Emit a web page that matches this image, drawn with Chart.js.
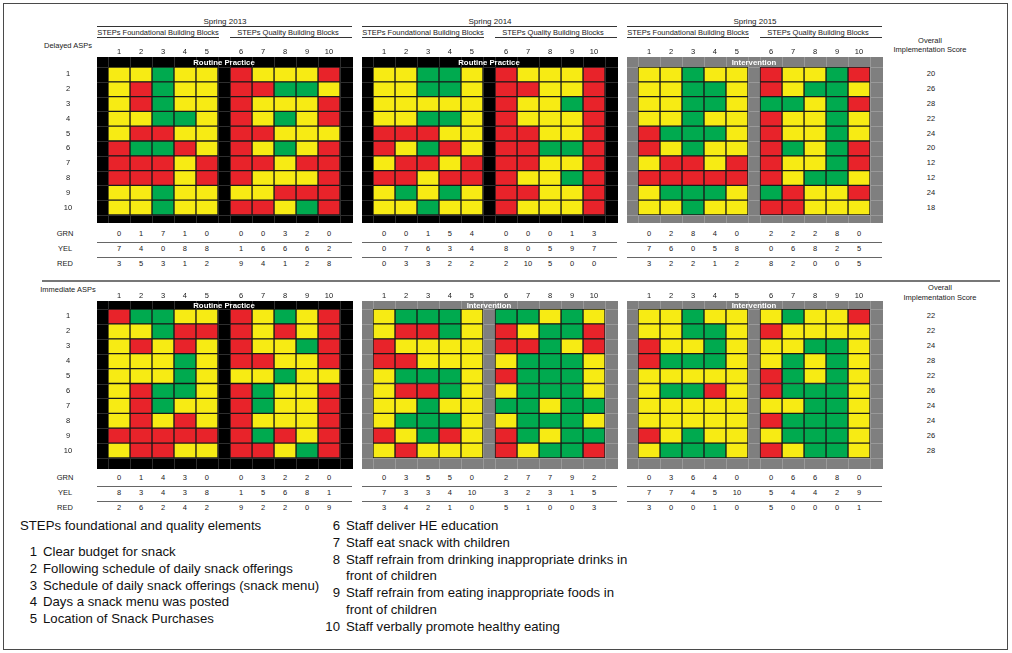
<!DOCTYPE html>
<html>
<head>
<meta charset="utf-8">
<script src="https://cdn.jsdelivr.net/npm/chart.js@4.4.0/dist/chart.umd.min.js"></script>
<style>
  html, body { margin: 0; padding: 0; background: #fff; }
  #page { position: relative; width: 1012px; height: 653px; overflow: hidden;
          font-family: "Liberation Sans", Arial, sans-serif; color: #1a1a1a; }
  .t { position: absolute; white-space: nowrap; line-height: 1; }
  .ln { position: absolute; height: 0; }
  canvas { position: absolute; }
</style>
</head>
<body>
<div id="page"></div>
<script>
// element numbers (columns) and ASP numbers (rows)
const elementLabels = ['1', '2', '3', '4', '5', '6', '7', '8', '9', '10'];
const rowLabels = ['1', '2', '3', '4', '5', '6', '7', '8', '9', '10'];
const periods = ['Spring 2013', 'Spring 2014', 'Spring 2015'];

// G = green, Y = yellow, R = red, one string per ASP, elements 1-10
const delayed2013 = ['YYGYYRYYYR', 'YRGYYRRGGY', 'YRGYYRYYYR', 'YYGGYRYGYR', 'YRRYYRRYYY',
                     'RGGRYRYGYR', 'RRRYRRRYRR', 'RRRYRRYYYR', 'YYGYYYYRRR', 'YYGYYRRYGR'];
const delayed2014 = ['YYGGYRYYYR', 'YYGGYRRYYR', 'YYYYYRYYGR', 'YYGGYRYYYR', 'RRRYYRRYYR',
                     'RYGRYRRGGR', 'YRRYRRRYYR', 'RRYRRRYYGR', 'YGYGYRRYYR', 'YYGYYRYYYR'];
const delayed2015 = ['YYGYYRYYGR', 'YYGGYRYGGY', 'YYGGYGGYGR', 'YYGYYRYYGY', 'RGGGYRYYGY',
                     'RYGYYRGYGR', 'YRRYRRYYGR', 'RRRRRRYGGY', 'YGGGYGRYYR', 'YYGYYRRYYY'];
const immediate2013 = ['RGGYYRYGYR', 'YYGRRRYRYR', 'YRYRYRYYGR', 'YYYGYRRYYR', 'YYYGYYYGYY',
                       'YRGGYRGYYR', 'YRGYYRGYYR', 'YRYRYRYYYR', 'RRRRRRGRYR', 'YRRYYRRYGR'];
const immediate2014 = ['YGGGYGGYGY', 'YRRGYRYGGR', 'RYYYYRRGYR', 'RRYYYYGGGY', 'YGGGYRGGGY',
                       'YRRGYYGGGY', 'YYGYYGGYGG', 'YGGGYYGGGY', 'RYGRYRGYGG', 'YRYYYRYGGR'];
const immediate2015 = ['YYGYYYGYYR', 'YYGGYRYYYY', 'RYYGYYYGGY', 'RGGGYYGYGY', 'YYYYYRGYGY',
                       'YGGRYRGGGY', 'YYYYYYYGGY', 'YYYYYRGGGY', 'RYGYYYGGGY', 'YGGGYRYGGY'];

const delayedScores = [20, 26, 28, 22, 24, 20, 12, 12, 24, 18];
const immediateScores = [22, 22, 24, 28, 22, 26, 24, 24, 26, 28];

// count rows printed under each block (as printed in the figure)
const countLabels = ['GRN', 'YEL', 'RED'];
const delayedCounts2013 = [[0, 1, 7, 1, 0, 0, 0, 3, 2, 0], [7, 4, 0, 8, 8, 1, 6, 6, 6, 2], [3, 5, 3, 1, 2, 9, 4, 1, 2, 8]];
const delayedCounts2014 = [[0, 0, 1, 5, 4, 0, 0, 0, 1, 3], [0, 7, 6, 3, 4, 8, 0, 5, 9, 7], [0, 3, 3, 2, 2, 2, 10, 5, 0, 0]];
const delayedCounts2015 = [[0, 2, 8, 4, 0, 2, 2, 2, 8, 0], [7, 6, 0, 5, 8, 0, 6, 8, 2, 5], [3, 2, 2, 1, 2, 8, 2, 0, 0, 5]];
const immediateCounts2013 = [[0, 1, 4, 3, 0, 0, 3, 2, 2, 0], [8, 3, 4, 3, 8, 1, 5, 6, 8, 1], [2, 6, 2, 4, 2, 9, 2, 2, 0, 9]];
const immediateCounts2014 = [[0, 3, 5, 5, 0, 2, 7, 7, 9, 2], [7, 3, 3, 4, 10, 3, 2, 3, 1, 5], [3, 4, 2, 1, 0, 5, 1, 0, 0, 3]];
const immediateCounts2015 = [[0, 3, 6, 4, 0, 0, 6, 6, 8, 0], [7, 7, 4, 5, 10, 5, 4, 4, 2, 9], [3, 0, 0, 1, 0, 5, 0, 0, 0, 1]];

const legendTitle = 'STEPs foundational and quality elements';
const legendLeft = [['1', 'Clear budget for snack'], ['2', 'Following schedule of daily snack offerings'],
  ['3', 'Schedule of daily snack offerings (snack menu)'], ['4', 'Days a snack menu was posted'],
  ['5', 'Location of Snack Purchases']];
const legendRight = [['6', 'Staff deliver HE education'], ['7', 'Staff eat snack with children'],
  ['8', 'Staff refrain from drinking inappropriate drinks in'], ['', 'front of children'],
  ['9', 'Staff refrain from eating inappropriate foods in'], ['', 'front of children'],
  ['10', 'Staff verbally promote healthy eating']];

const cellColors = { G: '#00aa4f', Y: '#f7eb14', R: '#e8232a' };
const GAP = 0.55;
const blockX = [97, 362, 627];
const BLOCK_W = 256;

const page = document.getElementById('page');

function text(str, x, y, size = 7.5, align = 'center', extra = {}) {
  const el = document.createElement('div');
  el.className = 't';
  el.textContent = str;
  el.style.left = x + 'px';
  el.style.top = y + 'px';
  el.style.fontSize = size + 'px';
  const tx = align === 'center' ? '-50%' : align === 'right' ? '-100%' : '0';
  el.style.transform = `translate(${tx}, -50%)`;
  Object.assign(el.style, extra);
  page.appendChild(el);
}

function line(x1, x2, y, w = 1, color = '#444') {
  const el = document.createElement('div');
  el.className = 'ln';
  el.style.left = x1 + 'px';
  el.style.top = y + 'px';
  el.style.width = (x2 - x1) + 'px';
  el.style.borderTop = `${w}px solid ${color}`;
  page.appendChild(el);
}

// faint grid lines on the block frame, at the cell edges
function frameGrid(color) {
  return {
    id: 'frameGrid',
    beforeDatasetsDraw(chart) {
      const { ctx, width, height } = chart;
      const x = chart.scales.x, y = chart.scales.y;
      const edges = [0, 1, 2, 3, 4, 5, 5 + GAP, 6 + GAP, 7 + GAP, 8 + GAP, 9 + GAP, 10 + GAP];
      const band = (y.bottom - y.top) / rowLabels.length;
      ctx.save();
      ctx.strokeStyle = color;
      ctx.lineWidth = 1;
      ctx.beginPath();
      edges.forEach(v => {
        const px = Math.round(x.getPixelForValue(v)) + 0.5;
        ctx.moveTo(px, 0); ctx.lineTo(px, height);
      });
      for (let i = 0; i <= rowLabels.length; i++) {
        const py = Math.round(y.top + i * band) + 0.5;
        ctx.moveTo(0, py); ctx.lineTo(width, py);
      }
      ctx.stroke();
      ctx.restore();
    }
  };
}

function cellDatasets(grid) {
  const sets = [];
  elementLabels.forEach((_, c) => {
    if (c === 5) {
      sets.push({ data: grid.map(() => GAP), backgroundColor: 'rgba(0,0,0,0)', borderWidth: 0 });
    }
    sets.push({
      data: grid.map(() => 1),
      backgroundColor: grid.map(row => cellColors[row[c]]),
      borderColor: '#1b1b1b',
      borderWidth: 1,
      borderSkipped: false
    });
  });
  return sets;
}

function drawBlock(grid, left, top, height, padTop, padBottom, phase) {
  const routine = phase === 'Routine Practice';
  const canvas = document.createElement('canvas');
  canvas.width = BLOCK_W;
  canvas.height = height;
  canvas.style.left = left + 'px';
  canvas.style.top = top + 'px';
  canvas.style.background = routine ? '#000' : '#7f7f7f';
  page.appendChild(canvas);
  const chart = new Chart(canvas, {
    type: 'bar',
    data: { labels: rowLabels, datasets: cellDatasets(grid) },
    options: {
      indexAxis: 'y',
      responsive: false,
      animation: false,
      devicePixelRatio: 1,
      barPercentage: 1,
      categoryPercentage: 1,
      layout: { padding: { left: 11, right: 13, top: padTop, bottom: padBottom } },
      scales: {
        x: { type: 'linear', stacked: true, min: 0, max: 10 + GAP, display: false },
        y: { type: 'category', stacked: true, display: false }
      },
      plugins: { legend: { display: false }, tooltip: { enabled: false } }
    },
    plugins: [frameGrid(routine ? '#2e2e2e' : '#999')]
  });
  // phase label sits in the frame strip above the cells
  text(phase, left + (chart.chartArea.left + chart.chartArea.right) / 2, top + padTop / 2 + 0.5, 7.8, 'center',
       { color: '#fff', fontWeight: 'bold' });
  return chart;
}

const panels = [
  { name: 'Delayed ASPs', top: 57, height: 166, padTop: 10, padBottom: 8, nameY: 46, numY: 51.5,
    scoreHead: [930, 41, 50], grids: [delayed2013, delayed2014, delayed2015],
    counts: [delayedCounts2013, delayedCounts2014, delayedCounts2015],
    phases: ['Routine Practice', 'Routine Practice', 'Intervention'],
    scores: delayedScores, countY: [234, 249, 264] },
  { name: 'Immediate ASPs', top: 301, height: 168, padTop: 8, padBottom: 11, nameY: 290, numY: 296,
    scoreHead: [940, 288, 298], grids: [immediate2013, immediate2014, immediate2015],
    counts: [immediateCounts2013, immediateCounts2014, immediateCounts2015],
    phases: ['Routine Practice', 'Intervention', 'Intervention'],
    scores: immediateScores, countY: [478, 493, 508] }
];

// outer frame
const frame = document.createElement('div');
Object.assign(frame.style, { position: 'absolute', left: '3px', top: '3px', width: '1003px', height: '645px',
  border: '1.5px solid #4a4a4a' });
page.appendChild(frame);

// period headers
periods.forEach((p, k) => {
  const x0 = blockX[k];
  text(p, x0 + 128, 22, 8);
  line(x0, x0 + 255, 26, 1, '#333');
  text('STEPs Foundational Building Blocks', x0 + 61, 32.5, 7.5);
  line(x0, x0 + 122, 37, 1, '#333');
  text('STEPs Quality Building Blocks', x0 + 191, 32.5, 7.5);
  line(x0 + 133, x0 + 255, 37, 1, '#333');
});

panels.forEach(panel => {
  text(panel.name, 68, panel.nameY, 7.5);
  text('Overall', panel.scoreHead[0], panel.scoreHead[1], 7.5);
  text('Implementation Score', panel.scoreHead[0], panel.scoreHead[2], 7.5);
  countLabels.forEach((lab, i) => text(lab, 65, panel.countY[i], 7.5));

  panel.grids.forEach((grid, k) => {
    const left = blockX[k];
    const chart = drawBlock(grid, left, panel.top, panel.height, panel.padTop, panel.padBottom, panel.phases[k]);
    const xs = chart.scales.x, ys = chart.scales.y;
    elementLabels.forEach((lab, c) => {
      const cx = left + xs.getPixelForValue(c + (c >= 5 ? GAP : 0) + 0.5);
      text(lab, cx, panel.numY, 7.5);
      panel.counts[k].forEach((row, i) => text(String(row[c]), cx, panel.countY[i], 7.5));
    });
    line(left, left + 255, (panel.countY[0] + panel.countY[1]) / 2, 1.5, '#666');
    line(left, left + 255, (panel.countY[1] + panel.countY[2]) / 2, 1.5, '#666');
    if (k === 0) {
      rowLabels.forEach((lab, r) => {
        const cy = panel.top + ys.getPixelForValue(r);
        text(lab, 68, cy, 7.5);
        text(String(panel.scores[r]), 931, cy, 7.5);
      });
    }
  });
});

// divider between the two panels
line(42, 1000, 280, 2, '#777');

// element legend
const LEG = 13.2;
text(legendTitle, 20, 526, LEG, 'left', { color: '#111' });
legendLeft.forEach(([n, s], i) => {
  const y = 552 + i * 16.8;
  text(n, 37, y, LEG, 'right', { color: '#111' });
  text(s, 43, y, LEG, 'left', { color: '#111' });
});
legendRight.forEach(([n, s], i) => {
  const y = 526 + i * 16.8;
  if (n) text(n, 340, y, LEG, 'right', { color: '#111' });
  text(s, 346, y, LEG, 'left', { color: '#111' });
});
</script>
</body>
</html>
